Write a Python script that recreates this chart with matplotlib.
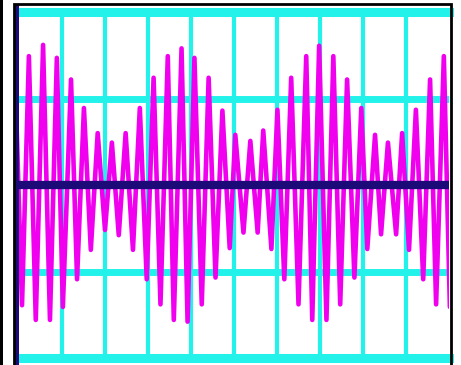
import matplotlib
matplotlib.use('Agg')
import matplotlib.pyplot as plt
from matplotlib.patches import Rectangle

# ─── DATA (in divisions) ──────────────────────────────
# extrema of the modulated trace, alternating peak / trough
t_ext = [-0.09, 0.07, 0.23, 0.39, 0.56, 0.72, 0.88, 1.02, 1.21, 1.35,
         1.51, 1.67, 1.83, 2.00, 2.16, 2.32, 2.48, 2.65, 2.81, 2.97,
         3.13, 3.29, 3.46, 3.60, 3.78, 3.92, 4.08, 4.25, 4.41, 4.57,
         4.73, 4.90, 5.03, 5.22, 5.38, 5.55, 5.68, 5.87, 6.01, 6.17,
         6.33, 6.50, 6.68, 6.82, 6.98, 7.15, 7.31, 7.47, 7.63, 7.80,
         7.96, 8.10, 8.28, 8.42, 8.58, 8.77, 8.91, 9.07, 9.23, 9.40,
         9.56, 9.70, 9.88, 10.02]
v_ext = [1.24, -1.39, 1.49, -1.56, 1.62, -1.56, 1.47, -1.41, 1.22, -1.09,
         0.89, -0.75, 0.60, -0.52, 0.49, -0.58, 0.60, -0.75, 0.89, -1.09,
         1.24, -1.38, 1.49, -1.56, 1.58, -1.58, 1.47, -1.38, 1.24, -1.07,
         0.86, -0.73, 0.58, -0.55, 0.51, -0.55, 0.63, -0.74, 0.87, -1.09,
         1.24, -1.38, 1.49, -1.56, 1.61, -1.56, 1.49, -1.38, 1.22, -1.07,
         0.89, -0.74, 0.58, -0.57, 0.49, -0.57, 0.60, -0.75, 0.87, -1.09,
         1.22, -1.38, 1.49, -1.41]

x_grid = [1, 2, 3, 4, 5, 6, 7, 8, 9]
y_grid = [-1, 1]
y_edges = [-2, 2]

CYAN = '#22f2ea'
NAVY = '#1c0a78'
MAGENTA = '#f000ee'

W, H = 461, 365
fig = plt.figure(figsize=(W / 100, H / 100), dpi=100, facecolor='white')
ax = fig.add_axes([19 / W, 7 / H, 430 / W, 346 / H])
ax.set_xlim(0, 10)
ax.set_ylim(-2, 2)
ax.set_facecolor('white')
for s in ax.spines.values():
    s.set_visible(False)
ax.set_xticks([])
ax.set_yticks([])

# grid
for x in x_grid:
    ax.axvline(x, color=CYAN, lw=3.0, zorder=1)
for y in y_grid:
    ax.axhline(y, color=CYAN, lw=5.0, zorder=1)
for y in y_edges:
    ax.axhline(y, color=CYAN, lw=6.5, zorder=1, clip_on=False)

# trace
ax.plot(t_ext, v_ext, color=MAGENTA, lw=3.3, solid_joinstyle='round',
        solid_capstyle='round', zorder=2)

# centre line
ax.axhline(0, color=NAVY, lw=6.0, zorder=3)

# frame bits
fig.patches.append(Rectangle((15 / W, 0), 4 / W, 361 / H, transform=fig.transFigure,
                             facecolor=NAVY, edgecolor='none', zorder=5))
fig.patches.append(Rectangle((14 / W, -0.05), 437 / W, 361 / H + 0.05, transform=fig.transFigure,
                             facecolor='none', edgecolor='black', lw=2.0, zorder=6))
fig.patches.append(Rectangle((0, 0), 2.5 / W, 1, transform=fig.transFigure,
                             facecolor='black', edgecolor='none', zorder=6))

plt.savefig('out.png', dpi=100, facecolor='white')
plt.close()
